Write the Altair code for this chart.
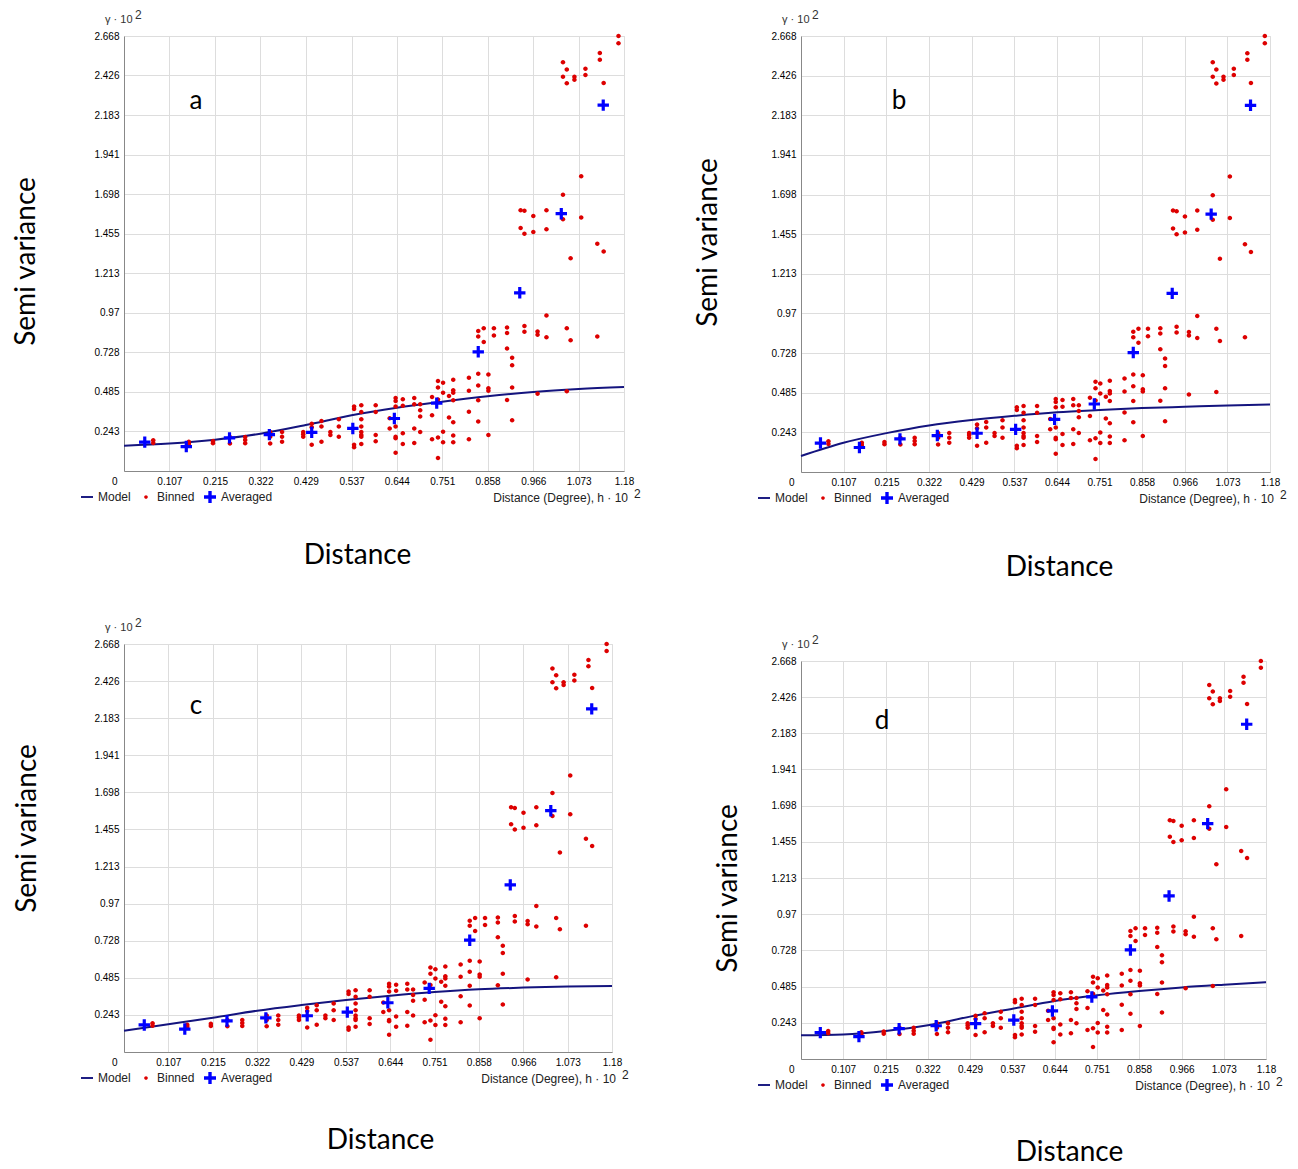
import altair as alt
import pandas as pd

# ---------------- data ----------------
x_ticks = [0, 0.107, 0.215, 0.322, 0.429, 0.537, 0.644, 0.751, 0.858, 0.966, 1.073, 1.18]
y_ticks = [0.243, 0.485, 0.728, 0.97, 1.213, 1.455, 1.698, 1.941, 2.183, 2.426, 2.668]

series_names = ["Model", "Binned", "Averaged"]

avg_x = [0.049, 0.147, 0.249, 0.343, 0.443, 0.540, 0.638, 0.738, 0.836, 0.934, 1.032, 1.131]
avg_y = [0.177, 0.150, 0.203, 0.223, 0.237, 0.261, 0.322, 0.416, 0.731, 1.093, 1.578, 2.244]

binned_x = [
    0.069, 0.069,
    0.153, 0.153,
    0.21, 0.21,
    0.25, 0.25,
    0.286, 0.286, 0.286,
    0.345, 0.345, 0.345,
    0.373, 0.373, 0.373,
    0.423, 0.423, 0.423,
    0.443, 0.443, 0.443,
    0.466, 0.466, 0.466,
    0.487, 0.487,
    0.507, 0.507, 0.507,
    0.543, 0.543, 0.543, 0.543,
    0.56, 0.56, 0.56, 0.56, 0.56, 0.56, 0.56, 0.56,
    0.594, 0.594, 0.594, 0.594,
    0.627, 0.627,
    0.641, 0.641, 0.641, 0.641, 0.641, 0.641, 0.641,
    0.658, 0.658, 0.658, 0.658,
    0.685, 0.685, 0.685, 0.685,
    0.699, 0.699, 0.699, 0.699,
    0.727, 0.727, 0.727,
    0.741, 0.741, 0.741, 0.741, 0.741,
    0.753, 0.753, 0.753, 0.753,
    0.767, 0.767,
    0.777, 0.777, 0.777, 0.777, 0.777, 0.777, 0.777,
    0.814, 0.814, 0.814, 0.814,
    0.836, 0.836, 0.836, 0.836, 0.836, 0.836,
    0.849, 0.849,
    0.86, 0.86, 0.86, 0.86,
    0.873, 0.873,
    0.904, 0.904, 0.904, 0.904,
    0.916, 0.916, 0.916, 0.916,
    0.936, 0.936,
    0.945, 0.945, 0.945, 0.945,
    0.966, 0.966,
    0.976, 0.976, 0.976,
    0.997, 0.997, 0.997, 0.997,
    1.036, 1.036, 1.036, 1.036,
    1.045, 1.045, 1.045, 1.045,
    1.054, 1.054,
    1.063, 1.063,
    1.079, 1.079,
    1.089, 1.089,
    1.117, 1.117,
    1.123, 1.123,
    1.132, 1.132,
    1.167, 1.167,
]
binned_y = [
    0.188, 0.172,
    0.179, 0.165,
    0.184, 0.170,
    0.209, 0.168,
    0.209, 0.19, 0.17,
    0.239, 0.21, 0.168,
    0.239, 0.21, 0.179,
    0.239, 0.226, 0.21,
    0.29, 0.268, 0.161,
    0.306, 0.273, 0.179,
    0.239, 0.221,
    0.317, 0.273, 0.21,
    0.396, 0.38, 0.161, 0.145,
    0.404, 0.362, 0.317, 0.273, 0.239, 0.221, 0.21, 0.165,
    0.404, 0.362, 0.221, 0.183,
    0.324, 0.261,
    0.447, 0.429, 0.396, 0.273, 0.21, 0.201, 0.112,
    0.44, 0.4, 0.232, 0.165,
    0.447, 0.409, 0.261, 0.172,
    0.409, 0.373, 0.335, 0.239,
    0.454, 0.342, 0.194,
    0.552, 0.512, 0.438, 0.206, 0.08,
    0.541, 0.48, 0.241, 0.177,
    0.46, 0.328,
    0.559, 0.496, 0.48, 0.434, 0.299, 0.217, 0.177,
    0.572, 0.492, 0.364, 0.194,
    0.858, 0.825, 0.597, 0.525, 0.434, 0.304,
    0.876, 0.791,
    0.592, 0.507, 0.492, 0.221,
    0.876, 0.831,
    0.88, 0.847, 0.751, 0.436,
    0.695, 0.648, 0.512, 0.311,
    1.6, 1.49,
    1.596, 1.455, 0.889, 0.854,
    1.564, 1.466,
    0.856, 0.836, 0.474,
    1.6, 1.482, 0.954, 0.82,
    1.694, 1.544, 2.507, 2.418,
    2.463, 2.378, 0.876, 0.489,
    0.802, 1.305,
    2.418, 2.4,
    1.808, 1.555,
    2.467, 2.429,
    1.394, 0.825,
    2.563, 2.523,
    2.38, 1.347,
    2.668, 2.623,
]

model_a = [0.155, 0.168, 0.192, 0.229, 0.282, 0.342, 0.388, 0.425, 0.458, 0.485, 0.503, 0.515]
model_b = [0.098, 0.179, 0.238, 0.285, 0.318, 0.344, 0.365, 0.379, 0.391, 0.399, 0.407, 0.413]
model_c = [0.139, 0.181, 0.224, 0.270, 0.307, 0.340, 0.368, 0.392, 0.410, 0.421, 0.429, 0.432]
model_d = [0.159, 0.165, 0.188, 0.226, 0.284, 0.337, 0.389, 0.427, 0.456, 0.480, 0.498, 0.514]

panel_letters = ["a", "b", "c", "d"]
x_title = "Distance"
y_title = "Semi variance"
small_x_title = "Distance (Degree), h · 10"
gamma_label = "γ · 10"

# ---------------- styling ----------------
COLORS = ["#14147e", "#dd0000", "#0000ff"]
LINE_PATH = "M-1,-0.16H1V0.16H-1Z"
DOT_PATH = "M-0.3,0A0.3,0.3,0,1,1,0.3,0A0.3,0.3,0,1,1,-0.3,0Z"
CROSS_PATH = "M-1,-0.28H-0.28V-1H0.28V-0.28H1V0.28H0.28V1H-0.28V0.28H-1Z"
SHAPES = [LINE_PATH, DOT_PATH, CROSS_PATH]
BIG_FONT = "Lato"
SMALL_FONT = "Liberation Sans"


def panel(letter, model_y, w, h, sv_x, sv_y, dist_x, dist_y, let_x, let_y):
    bdf = pd.DataFrame({"x": binned_x, "y": binned_y, "series": "Binned"})
    adf = pd.DataFrame({"x": avg_x, "y": avg_y, "series": "Averaged"})
    mdf = pd.DataFrame({"x": x_ticks, "y": model_y, "series": "Model"})
    one = pd.DataFrame({"t": [0]})

    xenc = alt.X(
        "x:Q",
        scale=alt.Scale(domain=[0, 1.18], nice=False, zero=False),
        axis=alt.Axis(
            values=x_ticks, format=".4~g", ticks=False, labelPadding=5,
            labelAlign={"condition": {"test": "datum.value == 0", "value": "right"}, "value": "center"},
            labelOffset={"condition": {"test": "datum.value == 0", "value": -7}, "value": 0},
            title=x_title, titleX=dist_x, titleY=dist_y, titleAlign="center",
            titleBaseline="middle", titleFont=BIG_FONT, titleFontSize=28,
            titleFontWeight="normal", titleColor="#000",
        ),
    )
    yenc = alt.Y(
        "y:Q",
        scale=alt.Scale(domain=[0, 2.668], nice=False, zero=False),
        axis=alt.Axis(
            values=y_ticks, format=".4~g", ticks=False, labelPadding=5,
            title=y_title, titleX=sv_x, titleY=sv_y, titleAngle=270,
            titleAlign="center", titleBaseline="middle", titleFont=BIG_FONT,
            titleFontSize=28, titleFontWeight="normal", titleColor="#000",
        ),
    )
    leg = alt.Legend(
        title=None, orient="none", legendX=-43, legendY=h + 20, direction="horizontal",
        labelFont=SMALL_FONT, labelFontSize=12, labelColor="#222", columnPadding=9,
        symbolSize=144, symbolStrokeWidth=0, labelOffset=5,
    )
    fill = alt.Fill("series:N", scale=alt.Scale(domain=series_names, range=COLORS), legend=leg)
    stroke = alt.Stroke("series:N", scale=alt.Scale(domain=series_names, range=COLORS), legend=leg)
    shape = alt.Shape("series:N", scale=alt.Scale(domain=series_names, range=SHAPES), legend=leg)

    model = alt.Chart(mdf).mark_line(interpolate="monotone", strokeWidth=2).encode(
        x=xenc, y=yenc, stroke=stroke
    )
    binned = alt.Chart(bdf).mark_point(filled=True, size=225, strokeWidth=0, opacity=1).encode(
        x=xenc, y=yenc, fill=fill, stroke=stroke, shape=shape
    )
    averaged = alt.Chart(adf).mark_point(filled=True, size=130, strokeWidth=0, opacity=1).encode(
        x=xenc, y=yenc, fill=fill, stroke=stroke, shape=shape
    )
    letter_t = alt.Chart(one).mark_text(
        text=letter, font=BIG_FONT, fontSize=26, align="center", baseline="middle", color="#000"
    ).encode(x=alt.value(let_x), y=alt.value(let_y))
    gamma_t = alt.Chart(one).mark_text(
        text=gamma_label, font=SMALL_FONT, fontSize=11, align="left", baseline="middle", color="#333"
    ).encode(x=alt.value(-19), y=alt.value(-16))
    gamma_sup = alt.Chart(one).mark_text(
        text="2", font=SMALL_FONT, fontSize=12, align="left", baseline="middle", color="#333"
    ).encode(x=alt.value(11), y=alt.value(-21))
    small_t = alt.Chart(one).mark_text(
        text=small_x_title, font=SMALL_FONT, fontSize=12, align="right", baseline="middle", color="#222"
    ).encode(x=alt.value(w + 4), y=alt.value(h + 27))
    small_sup = alt.Chart(one).mark_text(
        text="2", font=SMALL_FONT, fontSize=12, align="left", baseline="middle", color="#222"
    ).encode(x=alt.value(w + 10), y=alt.value(h + 23))

    return alt.layer(model, binned, averaged, letter_t, gamma_t, gamma_sup, small_t, small_sup).properties(
        width=w, height=h
    )


pa = panel(panel_letters[0], model_a, 500, 435, -98, 225, 233, 84, 72, 65)
pb = panel(panel_letters[1], model_b, 469, 436, -93, 206, 258, 95, 98, 65)
pc = panel(panel_letters[2], model_c, 488, 408, -97, 184, 256, 88, 72, 62)
pd_ = panel(panel_letters[3], model_d, 465, 398, -73, 227, 268, 93, 81, 60)

indep = dict(x="independent", y="independent", fill="independent", stroke="independent",
             shape="independent")

col1 = alt.vconcat(pa, pc, spacing=46).resolve_scale(**indep)
col2 = alt.vconcat(pb, pd_, spacing=51).resolve_scale(**indep)

chart = alt.hconcat(col1, col2, spacing=51).resolve_scale(**indep).properties(
    padding={"left": 3, "top": 0, "right": 0, "bottom": 0}
).configure_view(
    fill="#f4f4f4", stroke="#b8b8b8", strokeWidth=1.5
).configure_axis(
    domainColor="#9c9c9c", domainWidth=1.5, gridColor="#a2a2a2", gridDash=[1, 1],
    gridWidth=1, labelFont=SMALL_FONT, labelFontSize=12.5, labelColor="#333"
).configure(background="white")

chart.save("out.html", embed_options={"renderer": "svg", "actions": False})
